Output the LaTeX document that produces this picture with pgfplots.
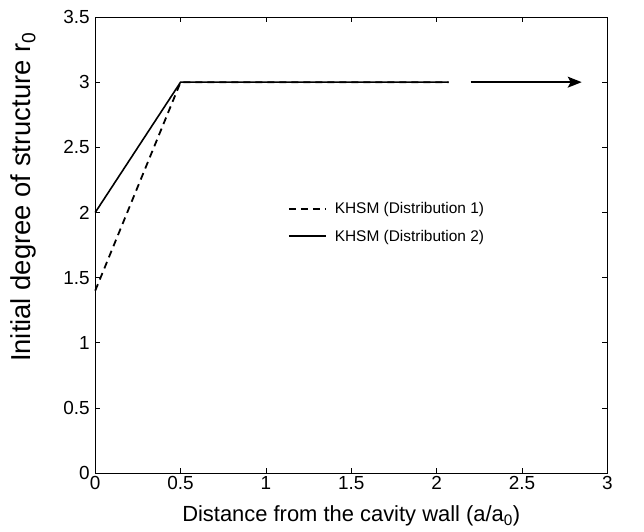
\documentclass[border=0pt]{standalone}
\usepackage{fontspec}
\setmainfont{Liberation Sans}
\usepackage{pgfplots}
\pgfplotsset{compat=1.18}
\usetikzlibrary{arrows.meta}
\begin{document}
\begin{tikzpicture}
\begin{axis}[
  scale only axis,
  width=512bp, height=456bp,
  xmin=0, xmax=3, ymin=0, ymax=3.5,
  xtick={0,0.5,...,3}, ytick={0,0.5,...,3.5},
  xticklabels={0,0.5,1,1.5,2,2.5,3},
  yticklabels={0,0.5,1,1.5,2,2.5,3,3.5},
  tick align=inside, major tick length=5bp,
  tick style={black, line width=0.6bp},
  axis line style={line width=0.8bp},
  /pgf/number format/assume math mode=true,
  ticklabel style={font=\fontsize{19}{22}\selectfont},
  yticklabel style={xshift=-2bp},
  xlabel={Distance from the cavity wall (a/a\textsubscript{0})},
  ylabel={Initial degree of structure r\textsubscript{0}},
  xlabel style={font=\fontsize{22}{26}\selectfont, at={(rel axis cs:0.5,-0.107)}, anchor=base},
  ylabel style={font=\fontsize{27.5}{32}\selectfont, at={(rel axis cs:-0.14,0.605)}, anchor=center},
  legend style={draw=none, fill=none, at={(rel axis cs:0.37,0.603)}, anchor=north west,
    font=\fontsize{15.5}{18}\selectfont, row sep=11bp, column sep=6bp},
  legend cell align=left,
  legend image code/.code={\draw[#1, line width=1.9bp] (0bp,0bp) -- (37bp,0bp);},
  clip=false,
]
\addplot[black, line width=1.8bp, dash pattern=on 7bp off 5bp] coordinates {(0,1.4) (0.5,3) (2.07,3)};
\addlegendentry{KHSM (Distribution 1)}
\addplot[black, line width=1.6bp] coordinates {(0,2) (0.5,3) (2.07,3)};
\addlegendentry{KHSM (Distribution 2)}
\addplot[black, line width=1.6bp, -{Stealth[length=14bp, width=11bp, inset=3bp]}, forget plot] coordinates {(2.2,3) (2.85,3)};
\coordinate (bl) at (rel axis cs:-0.186,-0.129);
\coordinate (tr) at (rel axis cs:1.0717,1.0373);
\end{axis}
\path (bl) rectangle (tr);
\end{tikzpicture}
\end{document}
